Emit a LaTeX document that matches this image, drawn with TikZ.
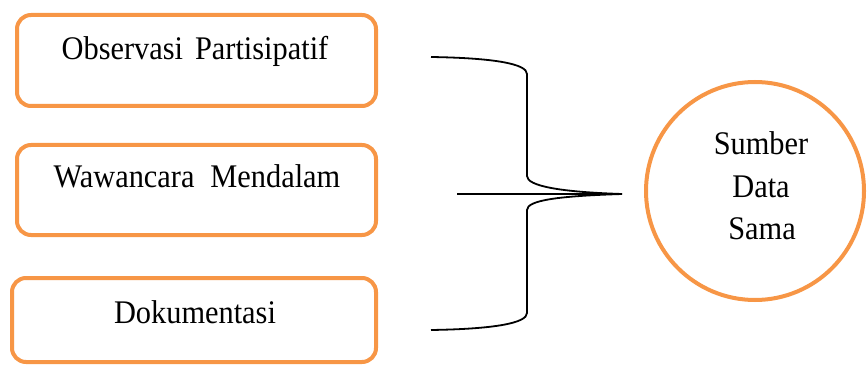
\documentclass[tikz,border=0pt]{standalone}
\usepackage{fontspec}
\setmainfont{Liberation Serif}[FakeStretch=0.92]
\definecolor{boxorange}{HTML}{F79646}
\begin{document}
\begin{tikzpicture}[x=1pt,y=-1pt,
  srcbox/.style={draw=boxorange, line width=4pt, rounded corners=14pt, inner sep=0pt, fill=white},
  lbl/.style={font=\fontsize{33}{43}\selectfont, anchor=base, inner sep=0pt},
  brace/.style={draw=black, line width=1.8pt},
  srccircle/.style={draw=boxorange, line width=4pt, circle, inner sep=0pt, minimum size=218pt}]
\useasboundingbox (0,0) rectangle (867,366);
% boxes
\node[srcbox, minimum width=359pt, minimum height=91pt] (b1) at (196.5,60.5) {};
\node[srcbox, minimum width=359pt, minimum height=90pt] (b2) at (196.5,190) {};
\node[srcbox, minimum width=364pt, minimum height=84pt] (b3) at (194,320) {};
\node[lbl] (t1) at (195,60) {Observasi\hspace{12pt}Partisipatif};
\node[lbl] (t2) at (197,188) {Wawancara\hspace{16pt}Mendalam};
\node[lbl] (t3) at (195,323) {Dokumentasi};
% circle
\node[srccircle] (c) at (755,191) {};
\node[lbl] (s1) at (761,155) {Sumber};
\node[lbl] (s2) at (761,198) {Data};
\node[lbl] (s3) at (762,240) {Sama};
% brace
\coordinate (btop) at (431,57);
\coordinate (bbot) at (431,330);
\coordinate (tip) at (622,194);
\coordinate (hstart) at (457,194);
\draw[brace] (btop) .. controls (495,58) and (527,64) .. (527,74)
  -- (527,176) .. controls (527,186) and (560,192) .. (tip);
\draw[brace] (tip) .. controls (560,196) and (527,200) .. (527,210)
  -- (527,313) .. controls (527,323) and (495,329) .. (bbot);
\draw[brace] (hstart) -- (tip);
\end{tikzpicture}
\end{document}
